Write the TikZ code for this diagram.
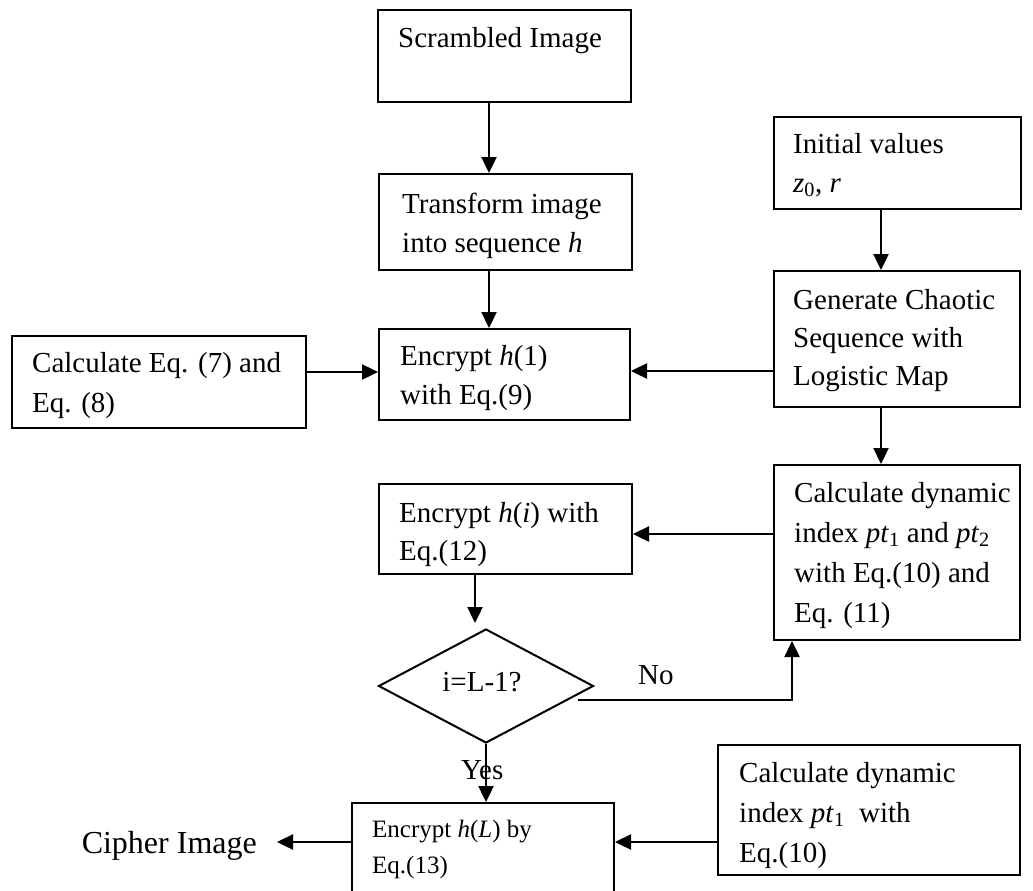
\documentclass[tikz,border=0pt]{standalone}
\usepackage{fontspec}
\setmainfont{Liberation Serif}
\usetikzlibrary{arrows.meta,shapes.geometric}
% italic variables and subscripts set in the text font
\newcommand{\var}[1]{\textit{#1}}
\newcommand{\low}[1]{\textsubscript{#1}}
\begin{document}
\begin{tikzpicture}[x=1pt,y=-1pt,
  box/.style={draw, line width=2pt, inner sep=0pt, anchor=north west},
  txt/.style={anchor=base west, inner sep=0pt, font=\fontsize{29}{35}\selectfont},
  small/.style={anchor=base west, inner sep=0pt, font=\fontsize{25}{30}\selectfont},
  arr/.style={line width=2.4pt, -{Triangle[length=16pt,width=15pt]}}]
\useasboundingbox (0,0) rectangle (1033,891);
\clip (0,0) rectangle (1033,891);

% boxes
\node[box, minimum width=253, minimum height=92]  (scr)  at (377,9)   {};
\node[box, minimum width=253, minimum height=96]  (trn)  at (378,173) {};
\node[box, minimum width=251, minimum height=91]  (enc1) at (378,328) {};
\node[box, minimum width=294, minimum height=92]  (calc) at (11,335)  {};
\node[box, minimum width=247, minimum height=92]  (init) at (773,116) {};
\node[box, minimum width=246, minimum height=136] (gen)  at (773,270) {};
\node[box, minimum width=246, minimum height=175] (dyn)  at (773,464) {};
\node[box, minimum width=253, minimum height=90]  (enci) at (378,483) {};
\node[draw, line width=2pt, shape=diamond, inner sep=0pt, shape aspect=1.89,
      minimum width=215, minimum height=114] (dec) at (486,686) {};
\node[box, minimum width=262, minimum height=120] (encL) at (351,802) {};
\node[box, minimum width=302, minimum height=130] (dyn1) at (717,744) {};

% texts
\node[txt] (scrT) at (398,48) {Scrambled Image};
\node[txt] (trnA) at (402,213) {Transform image};
\node[txt] (trnB) at (402,252) {into sequence \var{h}};
\node[txt] (encA) at (400,365) {Encrypt \var{h}(1)};
\node[txt] (encB) at (400,404) {with Eq.(9)};
\node[txt] (calA) at (32,372) {Calculate Eq. (7) and};
\node[txt] (calB) at (32,412) {Eq. (8)};
\node[txt] (iniA) at (793,153) {Initial values};
\node[txt] (iniB) at (793,192) {\var{z}\low{0}, \var{r}};
\node[txt] (genA) at (793,309) {Generate Chaotic};
\node[txt] (genB) at (793,347) {Sequence with};
\node[txt] (genC) at (793,385) {Logistic Map};
\node[txt] (dynA) at (794,502) {Calculate dynamic};
\node[txt] (dynB) at (794,542) {index \var{pt}\low{1} and \var{pt}\low{2}};
\node[txt] (dynC) at (794,582) {with Eq.(10) and};
\node[txt] (dynD) at (794,622) {Eq. (11)};
\node[txt] (eniA) at (399,522) {Encrypt \var{h}(\var{i}) with};
\node[txt] (eniB) at (399,560) {Eq.(12)};
\node[txt, anchor=base] (decT) at (482,691) {i=L-1?};
\node[txt] (noT) at (638,684) {No};
\node[txt] (yesT) at (461,779) {Yes};
\node[txt] (d1A) at (739,782) {Calculate dynamic};
\node[txt] (d1B) at (739,822) {index \var{pt}\low{1}\ \ with};
\node[txt] (d1C) at (739,862) {Eq.(10)};
\node[small] (elA) at (372,837) {Encrypt \var{h}(\var{L}) by};
\node[small] (elB) at (372,873) {Eq.(13)};
\node[anchor=base east, inner sep=0pt, font=\fontsize{32}{38}\selectfont] (ciph) at (257,853) {Cipher Image};

% connectors
\coordinate (decIn) at (475,623);
\coordinate (noStart) at (578,700);
\coordinate (noCorner) at (792,700);
\coordinate (ciphTip) at (277,842);

\draw[arr] (scr.south -| 489,0) -- (trn.north -| 489,0);
\draw[arr] (trn.south -| 489,0) -- (enc1.north -| 489,0);
\draw[arr] (calc.east |- 0,372) -- (enc1.west |- 0,372);
\draw[arr] (init.south -| 881,0) -- (gen.north -| 881,0);
\draw[arr] (gen.west |- 0,371) -- (enc1.east |- 0,371);
\draw[arr] (gen.south -| 881,0) -- (dyn.north -| 881,0);
\draw[arr] (dyn.west |- 0,534) -- (enci.east |- 0,534);
\draw[arr] (enci.south -| decIn) -- (decIn);
\draw[arr] (noStart) -- (noCorner) -- (dyn.south -| noCorner);
\draw[arr] (dec.south) -- (encL.north -| dec.south);
\draw[arr] (dyn1.west |- 0,842) -- (encL.east |- 0,842);
\draw[arr] (encL.west |- ciphTip) -- (ciphTip);
\end{tikzpicture}
\end{document}
